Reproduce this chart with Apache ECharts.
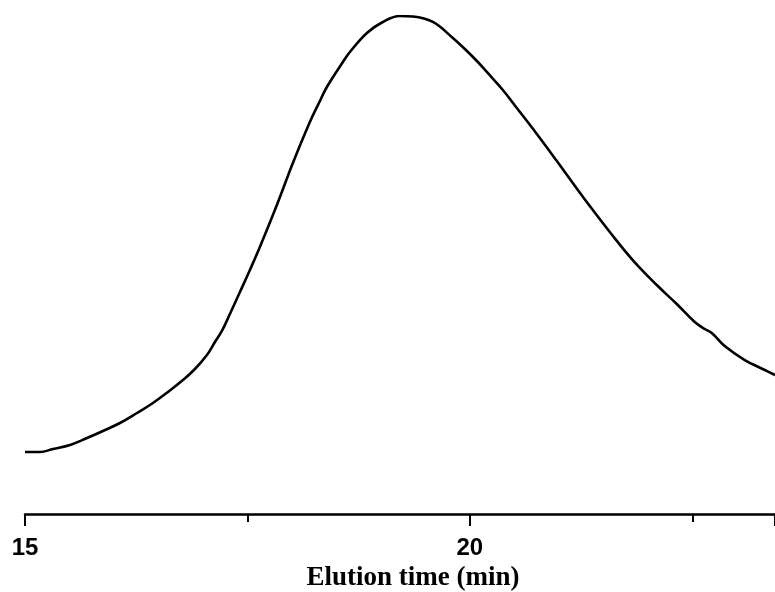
<!DOCTYPE html>
<html>
<head>
<meta charset="utf-8">
<script src="https://cdn.jsdelivr.net/npm/echarts@6/dist/echarts.min.js"></script>
<style>html,body{margin:0;padding:0;background:#fff;}#chart{width:775px;height:592px;}</style>
</head>
<body>
<div id="chart"></div>
<script>
// Elution time (min)
const times = [15.000,15.169,15.315,15.506,15.697,15.876,16.067,16.258,16.438,16.607,16.775,16.910,17.045,17.135,17.213,17.303,17.416,17.528,17.640,17.831,18.011,18.202,18.315,18.393,18.573,18.652,18.843,19.022,19.213,19.360,19.584,19.809,19.944,20.079,20.191,20.371,20.528,20.753,20.978,21.157,21.348,21.573,21.831,22.101,22.326,22.528,22.640,22.719,22.865,23.090,23.315,23.430];
// Normalized detector signal
const signal = [0.1245,0.1245,0.1305,0.1386,0.1526,0.1667,0.1827,0.2028,0.2229,0.2450,0.2691,0.2912,0.3193,0.3454,0.3675,0.4016,0.4458,0.4900,0.5361,0.6205,0.7048,0.7871,0.8293,0.8574,0.9076,0.9277,0.9659,0.9880,1.0000,0.9990,0.9880,0.9558,0.9337,0.9096,0.8876,0.8514,0.8153,0.7631,0.7088,0.6647,0.6185,0.5663,0.5100,0.4598,0.4217,0.3855,0.3715,0.3635,0.3373,0.3092,0.2892,0.2791];
const xTickLabels = [15, 20];
const xTitle = 'Elution time (min)';

const chart = echarts.init(document.getElementById('chart'), null, {renderer: 'canvas'});
chart.setOption({
  animation: false,
  backgroundColor: '#ffffff',
  grid: {left: 25, right: 0, top: 16, bottom: 78, containLabel: false, outerBoundsMode: 'none'},
  xAxis: {
    type: 'value',
    min: 15,
    max: 23.43,
    interval: 5,
    name: xTitle,
    nameLocation: 'middle',
    nameGap: 34,
    nameTextStyle: {fontFamily: 'Liberation Serif', fontWeight: 'bold', fontSize: 27, color: '#000', padding: [0,0,0,26]},
    axisLine: {show: true, lineStyle: {color: '#000', width: 2.5}},
    axisTick: {show: true, length: 12, inside: false, lineStyle: {color: '#000', width: 2}},
    minorTick: {show: true, splitNumber: 2, length: 8, lineStyle: {color: '#000', width: 2}},
    splitLine: {show: false},
    axisLabel: {
      show: true, margin: 22, fontFamily: 'Liberation Sans', fontWeight: 'bold', fontSize: 24, color: '#000',
      showMaxLabel: false,
      formatter: function (v) { return xTickLabels.indexOf(v) >= 0 ? String(v) : ''; }
    }
  },
  yAxis: {
    type: 'value', min: 0, max: 1, show: false, splitLine: {show: false}
  },
  series: [{
    type: 'line',
    data: times.map((t, i) => [t, signal[i]]),
    smooth: 0.4,
    showSymbol: false,
    clip: true,
    lineStyle: {color: '#000', width: 2.6}
  }]
});
</script>
</body>
</html>
